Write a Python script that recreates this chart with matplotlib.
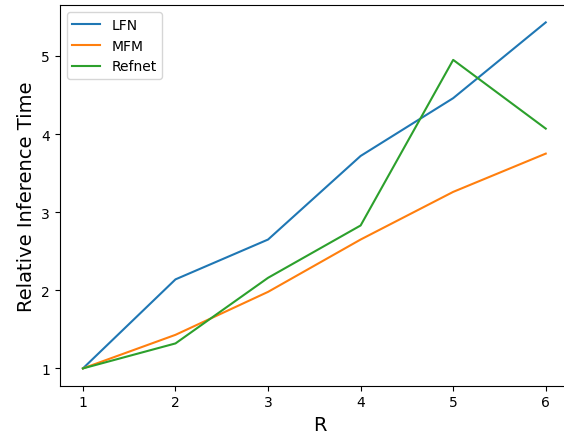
import matplotlib
matplotlib.use("Agg")
import matplotlib.pyplot as plt

# values
R = [1, 2, 3, 4, 5, 6]
lfn = [1.0, 2.14, 2.65, 3.72, 4.46, 5.43]
mfm = [1.0, 1.43, 1.98, 2.65, 3.26, 3.75]
refnet = [1.0, 1.32, 2.16, 2.83, 4.95, 4.07]

fig = plt.figure(figsize=(5.64, 4.35), dpi=100)
# reference is cropped on the right, so the axes run past the figure edge
ax = fig.add_axes([0.106, 0.111, 0.924, 0.875])

ax.plot(R, lfn, label="LFN")
ax.plot(R, mfm, label="MFM")
ax.plot(R, refnet, label="Refnet")

ax.set_xlim(0.75, 6.38)
ax.set_xlabel("R", fontsize=14)
ax.set_ylabel("Relative Inference Time", fontsize=14)
ax.legend(loc="upper left")

fig.savefig("out.png", dpi=100)
